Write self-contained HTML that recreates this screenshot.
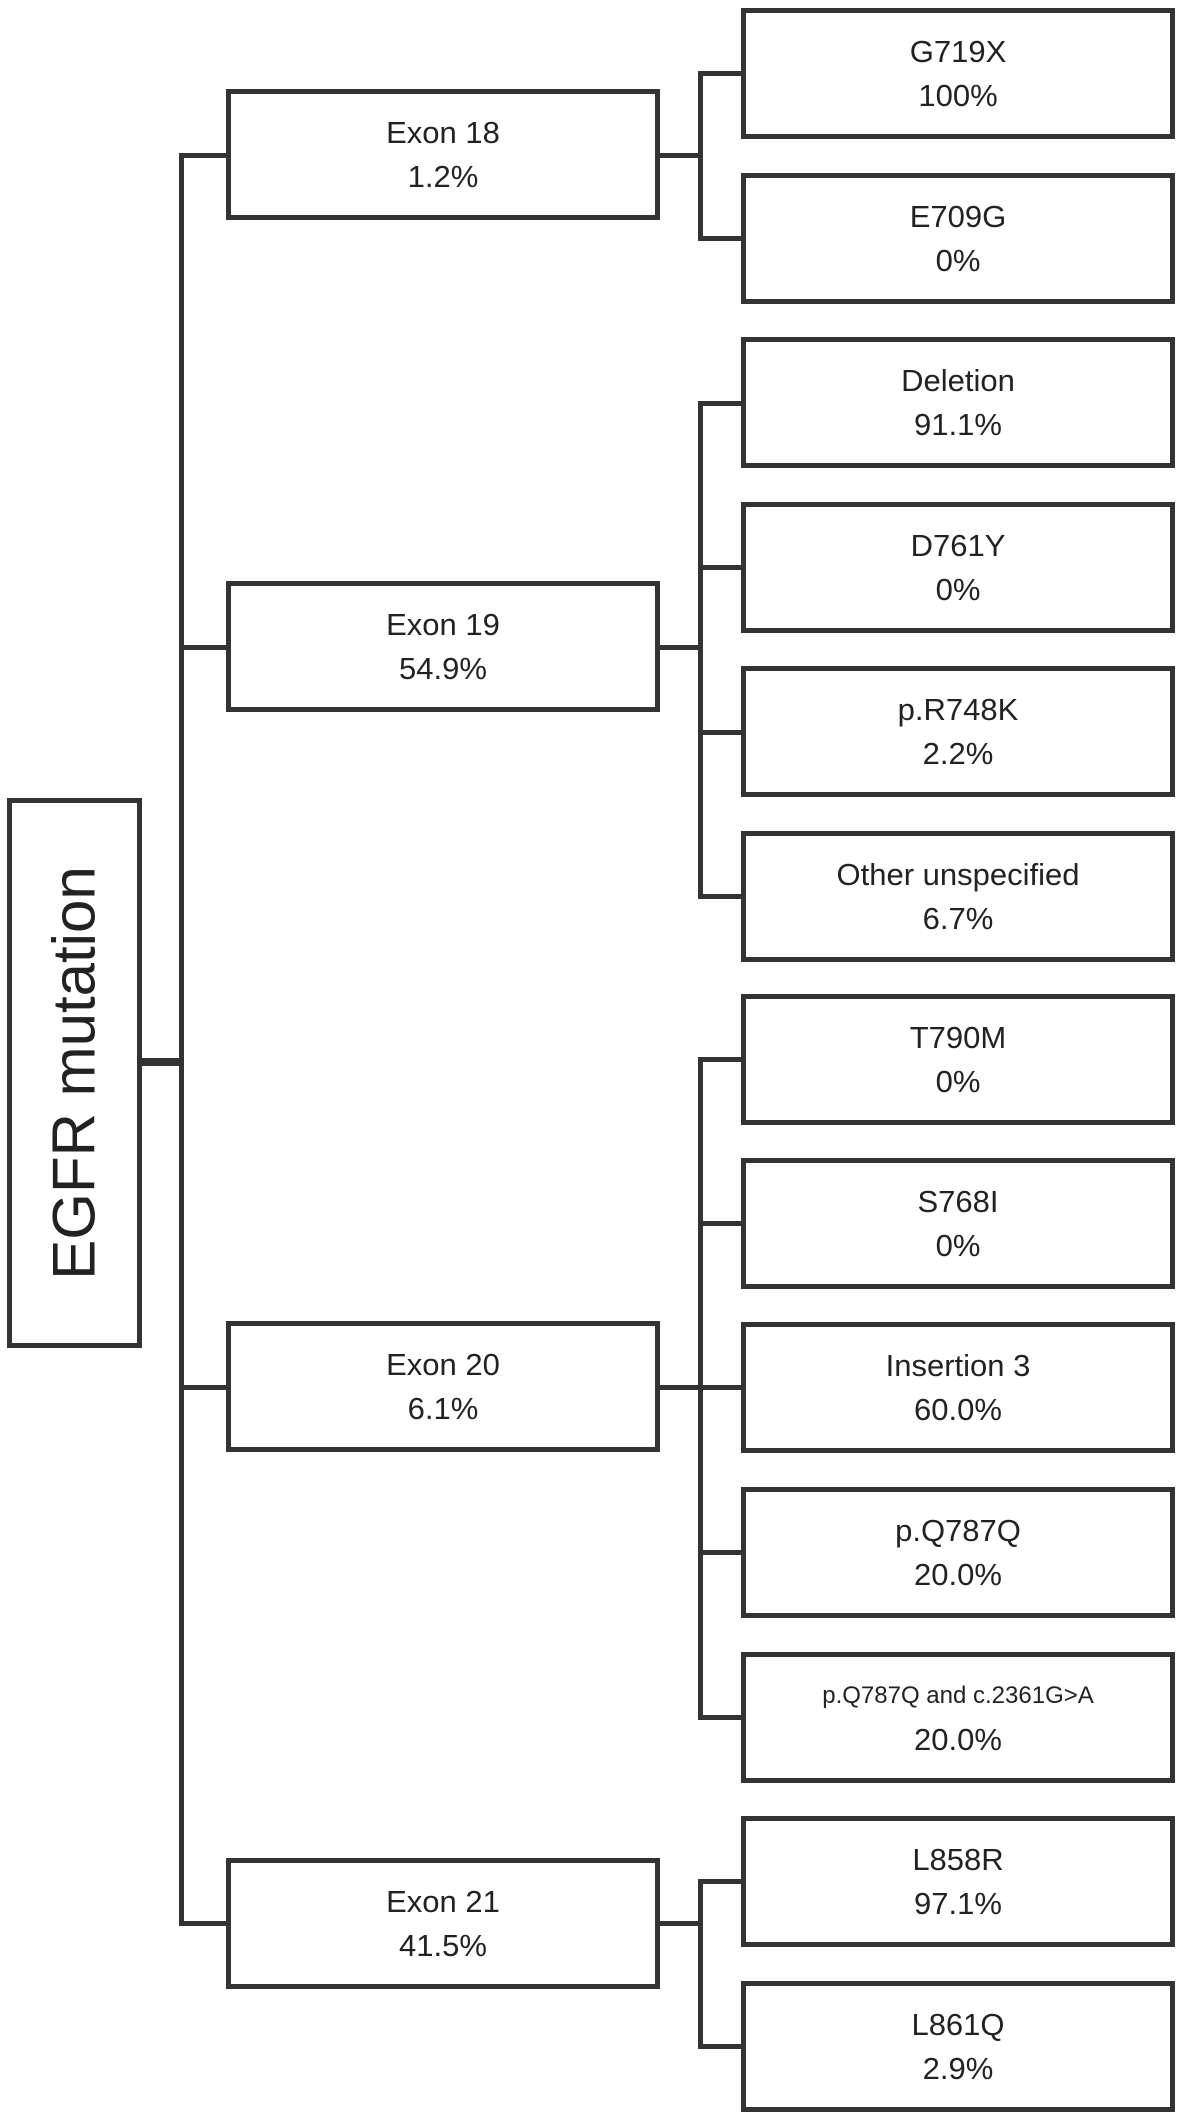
<!DOCTYPE html>
<html><head><meta charset="utf-8"><style>
body{margin:0;width:1181px;height:2113px;background:#fff;position:relative;overflow:hidden;font-family:"Liberation Sans",Arial,sans-serif;color:#222}
.b{position:absolute;box-sizing:border-box;border:5px solid #333;background:#fff;display:flex;flex-direction:column;align-items:center;justify-content:center;font-size:31px;line-height:44px;text-align:center}
.l{position:absolute;background:#333}
</style></head><body>
<div class="b" style="left:7px;top:798px;width:135px;height:550px"><div style="transform:rotate(-90deg);white-space:nowrap;font-size:60px;line-height:60px">EGFR mutation</div></div>
<div class="l" style="left:142px;top:1058px;width:42px;height:8px"></div>
<div class="l" style="left:179px;top:153px;width:5px;height:1773px"></div>
<div class="l" style="left:179px;top:153px;width:47px;height:5px"></div>
<div class="l" style="left:179px;top:645px;width:47px;height:5px"></div>
<div class="l" style="left:179px;top:1385px;width:47px;height:5px"></div>
<div class="l" style="left:179px;top:1921px;width:47px;height:5px"></div>
<div class="b" style="left:226px;top:89px;width:434px;height:131px">Exon 18<br>1.2%</div>
<div class="b" style="left:226px;top:581px;width:434px;height:131px">Exon 19<br>54.9%</div>
<div class="b" style="left:226px;top:1321px;width:434px;height:131px">Exon 20<br>6.1%</div>
<div class="b" style="left:226px;top:1858px;width:434px;height:131px">Exon 21<br>41.5%</div>
<!-- exon->children -->
<div class="l" style="left:660px;top:153px;width:42px;height:5px"></div>
<div class="l" style="left:698px;top:71px;width:5px;height:169px"></div>
<div class="l" style="left:660px;top:645px;width:42px;height:5px"></div>
<div class="l" style="left:698px;top:401px;width:5px;height:497px"></div>
<div class="l" style="left:660px;top:1385px;width:42px;height:5px"></div>
<div class="l" style="left:698px;top:1057px;width:5px;height:662px"></div>
<div class="l" style="left:660px;top:1921px;width:42px;height:5px"></div>
<div class="l" style="left:698px;top:1879px;width:5px;height:169px"></div>
<div class="l" style="left:698px;top:71px;width:44px;height:5px"></div>
<div class="l" style="left:698px;top:236px;width:44px;height:5px"></div>
<div class="l" style="left:698px;top:401px;width:44px;height:5px"></div>
<div class="l" style="left:698px;top:565px;width:44px;height:5px"></div>
<div class="l" style="left:698px;top:730px;width:44px;height:5px"></div>
<div class="l" style="left:698px;top:894px;width:44px;height:5px"></div>
<div class="l" style="left:698px;top:1057px;width:44px;height:5px"></div>
<div class="l" style="left:698px;top:1221px;width:44px;height:5px"></div>
<div class="l" style="left:698px;top:1385px;width:44px;height:5px"></div>
<div class="l" style="left:698px;top:1550px;width:44px;height:5px"></div>
<div class="l" style="left:698px;top:1715px;width:44px;height:5px"></div>
<div class="l" style="left:698px;top:1879px;width:44px;height:5px"></div>
<div class="l" style="left:698px;top:2044px;width:44px;height:5px"></div>
<div class="b" style="left:741px;top:8px;width:434px;height:131px">G719X<br>100%</div>
<div class="b" style="left:741px;top:173px;width:434px;height:131px">E709G<br>0%</div>
<div class="b" style="left:741px;top:337px;width:434px;height:131px">Deletion<br>91.1%</div>
<div class="b" style="left:741px;top:502px;width:434px;height:131px">D761Y<br>0%</div>
<div class="b" style="left:741px;top:666px;width:434px;height:131px">p.R748K<br>2.2%</div>
<div class="b" style="left:741px;top:831px;width:434px;height:131px">Other unspecified<br>6.7%</div>
<div class="b" style="left:741px;top:994px;width:434px;height:131px">T790M<br>0%</div>
<div class="b" style="left:741px;top:1158px;width:434px;height:131px">S768I<br>0%</div>
<div class="b" style="left:741px;top:1322px;width:434px;height:131px">Insertion 3<br>60.0%</div>
<div class="b" style="left:741px;top:1487px;width:434px;height:131px">p.Q787Q<br>20.0%</div>
<div class="b" style="left:741px;top:1652px;width:434px;height:131px"><span style="font-size:24px">p.Q787Q and c.2361G&gt;A</span>20.0%</div>
<div class="b" style="left:741px;top:1816px;width:434px;height:131px">L858R<br>97.1%</div>
<div class="b" style="left:741px;top:1981px;width:434px;height:131px">L861Q<br>2.9%</div>
</body></html>
